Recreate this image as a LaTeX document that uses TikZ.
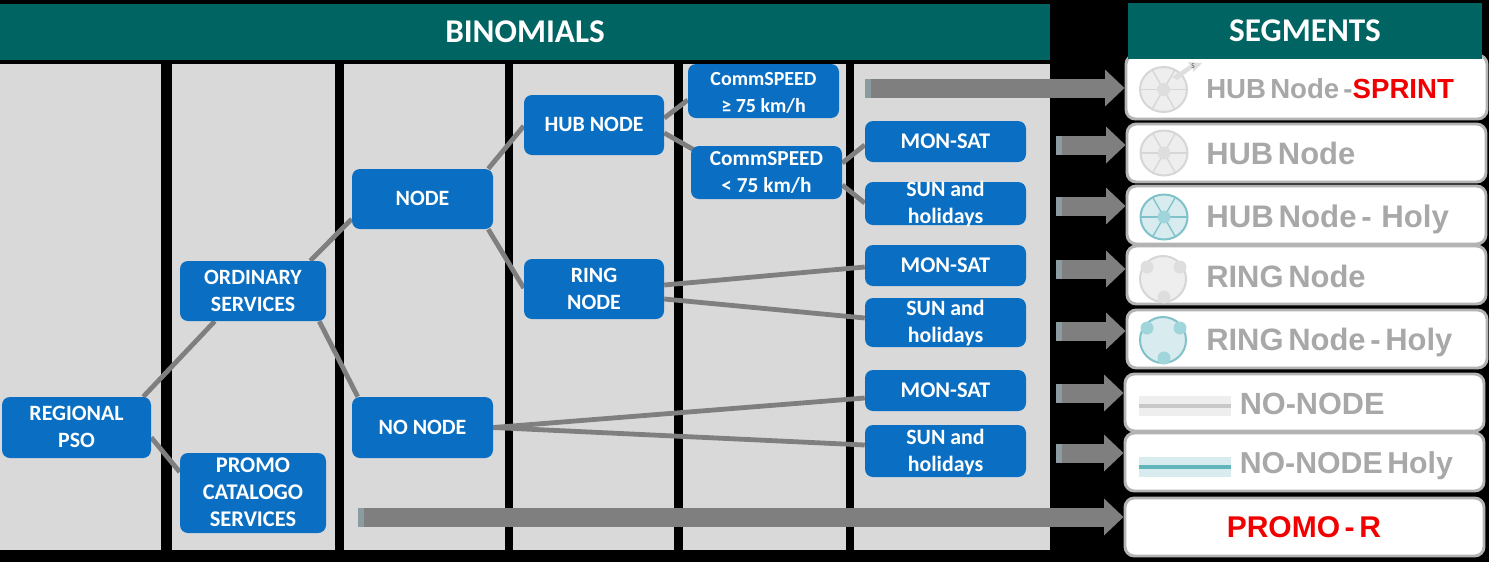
\documentclass[tikz,border=0pt]{standalone}
\usepackage{fontspec}
\setmainfont{Carlito}
\newfontfamily\segfont[WordSpace=0.55]{Liberation Sans}
\usetikzlibrary{calc,arrows.meta}
\definecolor{teal1}{HTML}{006462}
\definecolor{panel}{HTML}{D9D9D9}
\definecolor{blue1}{HTML}{0A6FC2}
\definecolor{conn}{HTML}{7F7F7F}
\definecolor{arrowg}{HTML}{7F7F7F}
\definecolor{tailg}{HTML}{8A9C9F}
\definecolor{segline}{HTML}{B4B4B4}
\definecolor{segtext}{HTML}{A8A8A8}
\definecolor{icong}{HTML}{EEEEEE}
\definecolor{icongl}{HTML}{D6D6D6}
\definecolor{icongc}{HTML}{DEDEDE}
\definecolor{icont}{HTML}{D8EBEE}
\definecolor{icontl}{HTML}{7FC2C9}
\definecolor{icontc}{HTML}{A0D6DB}
\definecolor{holyline}{HTML}{62B6BB}
\definecolor{plainline}{HTML}{C8C8C8}
\definecolor{redt}{HTML}{F00000}
\pgfdeclarelayer{bglayer}\pgfdeclarelayer{connlayer}
\pgfsetlayers{bglayer,connlayer,main}
\tikzset{
  x=0.75pt,y=-0.75pt,
  bluebox/.style={fill=blue1,rounded corners=6pt,inner sep=0pt,text=white,font=\bfseries},
  segbox/.style={fill=white,draw=segline,line width=2.2pt,rounded corners=7pt,inner sep=0pt},
  headbox/.style={fill=teal1,inner sep=0pt,text=white,font=\fontsize{24.9}{28}\selectfont\bfseries},
  panelbox/.style={fill=panel},
  link/.style={draw=conn,line width=3.6pt},
  bigarrow/.style={draw=arrowg,line width=14.25pt,-{Triangle[length=14.5pt,width=26.5pt]}},
  tailmark/.style={fill=tailg},
  segtxt/.style={anchor=west,inner sep=0pt,text=segtext},
  spoke/.style={line width=1pt},
}
\newcommand\bbox[7][16.4]{\node[bluebox,minimum width={(#5-#3)*0.75pt},minimum height={(#6-#4)*0.75pt}] (#2) at ({(#3+#5)/2},{(#4+#6)/2}) {\fontsize{#1}{20.3}\selectfont\raisebox{-10.9pt}{\smash{\begin{tabular}{@{}c@{}}#7\end{tabular}}}};}
\newcommand\segb[5]{\node[segbox,minimum width={(#4-#2)*0.75pt},minimum height={(#5-#3)*0.75pt}] (#1) at ({(#2+#4)/2},{(#3+#5)/2}) {};}
\newcommand\hubicon[5]{% cx cy fill line centre
  \filldraw[fill=#3,draw=#4,line width=1.5pt] (#1,#2) ellipse [x radius=23.5,y radius=22.5];
  \foreach \a in {0,60,120,180,240,300}{\draw[#4,spoke] (#1,#2) -- ++(\a:23);}
  \fill[#5] (#1,#2) circle [radius=6.5];}
\newcommand\ringicon[5]{%
  \filldraw[fill=#3,draw=#4,line width=1.5pt] (#1,#2) circle [radius=23];
  \fill[#5] ($(#1,#2)+(-16,-12)$) circle [radius=6.5];
  \fill[#5] ($(#1,#2)+(17,-12)$) circle [radius=6.5];
  \fill[#5] ($(#1,#2)+(1,18)$) circle [radius=6.5];}
\newcommand\segfs[1]{\fontsize{#1}{26}\segfont\bfseries}
\begin{document}
\begin{tikzpicture}
\useasboundingbox (0,0) rectangle (1489,562);
\begin{pgfonlayer}{bglayer}
\fill[black] (0,0) rectangle (1489,562);
\fill[panelbox] (0,64) rectangle (161,550);
\fill[panelbox] (172,64) rectangle (335,550);
\fill[panelbox] (344,64) rectangle (505,550);
\fill[panelbox] (513,64) rectangle (674,550);
\fill[panelbox] (683,64) rectangle (846,550);
\fill[panelbox] (854,64) rectangle (1050,550);
\end{pgfonlayer}
% blue boxes
\bbox{reg}{2}{397}{151}{458}{REGIONAL\\PSO}
\bbox{ord}{180}{261}{326}{321}{ORDINARY\\SERVICES}
\bbox[16.8]{promo}{180}{453}{326}{533}{PROMO\\CATALOGO\\SERVICES}
\bbox{nodeb}{352}{169}{493}{229}{NODE}
\bbox{nonode}{352}{397}{493}{458}{NO NODE}
\bbox{hub}{524}{95}{664}{155}{HUB NODE}
\bbox{ring}{524}{259}{664}{319}{RING\\NODE}
\bbox[15]{cfast}{688}{64}{839}{118}{CommSPEED\\≥ 75 km/h}
\bbox[16]{cslow}{691}{146}{842}{199}{CommSPEED\\< 75 km/h}
\bbox[16.8]{mona}{865}{121}{1026}{162}{MON-SAT}
\bbox{suna}{865}{182}{1026}{225}{SUN and\\holidays}
\bbox[16.8]{monb}{865}{245}{1026}{286}{MON-SAT}
\bbox{sunb}{865}{298}{1026}{347}{SUN and\\holidays}
\bbox[16.8]{monc}{865}{370}{1026}{411}{MON-SAT}
\bbox{sunc}{865}{425}{1026}{477}{SUN and\\holidays}
% connectors
\begin{pgfonlayer}{connlayer}
\draw[link] ($(reg.north east)+(-8,0)$) -- ($(ord.south west)+(35,0)$);
\draw[link] ($(reg.east)+(0,10)$) -- ($(promo.west)+(0,-21)$);
\draw[link] ($(ord.north east)+(-16,0)$) -- ($(nodeb.west)+(0,20)$);
\draw[link] ($(ord.south east)+(-7,0)$) -- ($(nonode.north west)+(6,0)$);
\draw[link] ($(nodeb.north east)+(-5,0)$) -- ($(hub.west)+(0,1)$);
\draw[link] ($(nodeb.south east)+(-5,0)$) -- ($(ring.west)+(0,-1)$);
\draw[link] ($(hub.east)+(0,-7)$) -- ($(cfast.west)+(0,9)$);
\draw[link] ($(hub.east)+(0,8)$) -- ($(cslow.north west)+(3,4)$);
\draw[link] ($(cslow.east)+(0,-9.5)$) -- ($(mona.west)+(0,3.5)$);
\draw[link] ($(cslow.east)+(0,12.5)$) -- ($(suna.west)+(0,-0.5)$);
\draw[link] ($(ring.east)+(0,-4)$) -- ($(monb.west)+(0,1.5)$);
\draw[link] ($(ring.east)+(0,10)$) -- ($(sunb.west)+(0,-4.5)$);
\draw[link] (nonode.east) -- ($(monc.west)+(0,7.5)$);
\draw[link] (nonode.east) -- ($(sunc.west)+(0,-6)$);
\end{pgfonlayer}
% segment boxes
\segb{sa}{1126}{55}{1487}{119}
\segb{sb}{1127}{124}{1486}{182}
\segb{sc}{1127}{186}{1486}{244}
\segb{sd}{1127}{246}{1486}{304}
\segb{se}{1127}{310}{1487}{368}
\segb{sf}{1125}{374}{1484}{431}
\segb{sg}{1125}{433}{1484}{491}
\segb{sh}{1125}{498}{1484}{556}
% headers
\node[headbox,minimum width=1050*0.75pt,minimum height=56*0.75pt] (hb) at (525,32) {BINOMIALS};
\node[headbox,minimum width=354*0.75pt,minimum height=56*0.75pt] (hs) at (1305,31) {SEGMENTS};
% arrows
\coordinate (ta) at (865,88);
\coordinate (tb) at (1056,145);
\coordinate (tc) at (1056,206);
\coordinate (td) at (1056,269);
\coordinate (te) at (1056,331);
\coordinate (tf) at (1056,393);
\coordinate (tg) at (1056,453);
\coordinate (th) at (358,517);
\draw[bigarrow] (ta) -- (ta -| sa.west);
\draw[bigarrow] (tb) -- (tb -| sb.west);
\draw[bigarrow] (tc) -- (tc -| sc.west);
\draw[bigarrow] (td) -- (td -| sd.west);
\draw[bigarrow] (te) -- (te -| se.west);
\draw[bigarrow] (tf) -- (tf -| sf.west);
\draw[bigarrow] (tg) -- (tg -| sg.west);
\draw[bigarrow] (th) -- (th -| sh.west);
\foreach \t in {ta,tb,tc,td,te,tf,tg,th}{\fill[tailmark] ($(\t)+(0,-9.5)$) rectangle ($(\t)+(6,9.5)$);}
% icons
\hubicon{1163.5}{89.5}{icong}{icongl}{icongc}
\fill[icongc] (1172,77) -- (1190,65) -- (1188,62) -- (1202,63) -- (1193,72) -- (1193,68) -- (1177,80) -- cycle;
\node[inner sep=0pt,text=black!70,font=\fontsize{5.5}{6}\selectfont] (sprintS) at (1193,66) {S};
\hubicon{1164}{153}{icong}{icongl}{icongc}
\hubicon{1164}{217}{icont}{icontl}{icontc}
\ringicon{1163}{279}{icong}{icongl}{icongc}
\ringicon{1163}{340}{icont}{icontl}{icontc}
\fill[icong] (1139,396) rectangle (1231,416);
\fill[plainline] (1139,403.5) rectangle (1231,407.5);
\fill[icont] (1139,457) rectangle (1231,477);
\fill[holyline] (1139,465) rectangle (1231,469);
% segment labels
\node[segtxt,font=\segfs{20.7}] (la) at (1206,89) {HUB Node -\textcolor{redt}{SPRINT}};
\node[segtxt,font=\segfs{23.2}] (lb) at (1206,153) {HUB Node};
\node[segtxt,font=\segfs{23.4}] (lc) at (1206,219.5) {HUB Node -\ \ Holy};
\node[segtxt,font=\segfs{23.2}] (ld) at (1206,276) {RING Node};
\node[segtxt,font=\segfs{23.2}] (le) at (1206,342) {RING Node - Holy};
\node[segtxt,font=\segfs{23}] (lf) at (1239.5,404) {NO-NODE};
\node[segtxt,font=\segfs{22.7}] (lg) at (1239.5,466) {NO-NODE Holy};
\node[segtxt,text=redt,font=\segfs{22.5}] (lh) at (1226.5,527) {PROMO - R};
\end{tikzpicture}
\end{document}
